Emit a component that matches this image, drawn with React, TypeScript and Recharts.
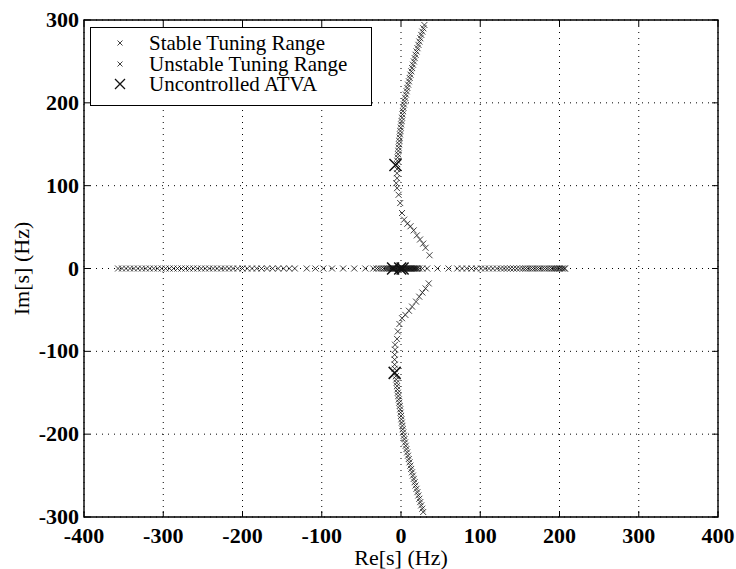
import { CartesianGrid, Label, ReferenceArea, Scatter, ScatterChart, XAxis, YAxis } from 'recharts'

const X_TICKS = [-400, -300, -200, -100, 0, 100, 200, 300, 400]
const Y_TICKS = [-300, -200, -100, 0, 100, 200, 300]

type Pole = [number, number]

// complex branches, [Re, Im] in Hz
const upperOuterStable: Pole[] = [
    [-5, 126], [-4.6, 130], [-4.2, 134], [-3.7, 138], [-3.3, 142], [-2.9, 146], [-2.5, 150],
    [-2.1, 154], [-1.7, 158], [-1.3, 162], [-0.8, 166], [-0.3, 170],
]
const upperOuterUnstable: Pole[] = [
    [0.2, 174], [0.8, 178], [1.3, 182], [1.9, 186], [2.5, 190], [3.1, 194], [3.7, 198], [4.4, 202],
    [5.3, 206], [6.2, 210], [7.1, 214], [8, 218], [9, 222], [10, 226], [11, 230], [12, 234],
    [13, 238], [14, 242], [15.1, 246], [16.2, 250], [17.3, 254], [18.4, 258], [19.6, 262],
    [20.8, 266], [22, 270], [23.2, 274], [24.4, 278], [25.6, 282], [26.9, 286], [28.2, 290], [29.5, 294],
]
const upperInnerStable: Pole[] = [[-5, 120], [-5, 115], [-5, 109], [-6, 103], [-5, 97], [-3, 89], [-1, 79]]
const upperInnerUnstable: Pole[] = [
    [1.3, 67], [4, 59], [8, 54], [12, 51], [16, 46], [20, 40], [24, 35], [28, 30], [31, 25], [36, 16],
]
const lowerInnerUnstable: Pole[] = [
    [35, -18], [31, -24], [27, -29], [23, -34], [19, -40], [14, -46], [10, -51], [5.5, -56], [1.3, -60],
]
const lowerInnerStable: Pole[] = [
    [-2, -67], [-4, -76], [-5, -85], [-7.5, -92], [-7.5, -98], [-8, -104], [-8, -110], [-8, -116], [-8, -121],
]
const lowerOuterStable: Pole[] = [
    [-6.5, -130], [-6, -134], [-5.5, -138], [-5, -142], [-4.5, -146], [-4, -150], [-3.4, -154],
    [-2.8, -158], [-2.2, -162], [-1.6, -166], [-1, -170], [-0.5, -174], [0, -178],
]
const lowerOuterUnstable: Pole[] = [
    [0.5, -182], [1.1, -186], [1.7, -190], [2.2, -194], [2.8, -198], [3.5, -202], [4.3, -206],
    [5.1, -210], [6, -214], [6.9, -218], [7.8, -222], [8.8, -226], [9.8, -230], [10.8, -234],
    [11.8, -238], [12.8, -242], [13.9, -246], [15, -250], [16.1, -254], [17.2, -258], [18.3, -262],
    [19.5, -266], [20.7, -270], [21.9, -274], [23.1, -278], [24.3, -282], [25.5, -286], [26.8, -290], [28, -294],
]

// real-axis poles (Re only, Im = 0)
const realLeftStable = [
    -357, -352, -347, -342, -337, -332, -327, -322, -317, -312, -307, -302, -297, -292, -287, -282,
    -277, -272, -267, -262, -257, -252, -247, -242, -237, -232, -227, -222, -217, -212, -206, -200,
    -194, -188, -182, -176, -169, -162, -155, -148, -141, -134, -119, -108, -98, -87, -73, -59, -45,
    -35, -31, -28, -25, -22, -20, -18, -16.5, -15, -13.5, -12, -10.5, -9, -8, -7, -6, -5, -4, -3,
    -2, -1, 0,
]
const realRightUnstable = [
    1, 2, 3, 4, 5, 6, 7, 8, 9, 10, 11, 12, 13, 14, 15, 16, 17, 18, 19, 20, 21, 23, 27, 33, 46, 60,
    71, 77, 83, 89, 95, 101, 106, 111, 116, 121, 126, 130, 134, 138, 142, 146, 150, 154, 157, 160,
    163, 166, 169, 172, 175, 178, 181, 184, 187, 190, 192, 194, 196, 198, 200, 202, 204, 206, 207,
]

const uncontrolled: Pole[] = [[-7, 125], [-8, -126], [-10, 0], [-1, 0], [2, 0]]

const toPoints = (poles: Pole[]) => poles.map(([re, im]) => ({ re, im }))
const onAxis = (values: number[]) => values.map((re) => ({ re, im: 0 }))

const stableData = [
    ...toPoints(upperOuterStable),
    ...toPoints(upperInnerStable),
    ...toPoints(lowerInnerStable),
    ...toPoints(lowerOuterStable),
    ...onAxis(realLeftStable),
]
const unstableData = [
    ...toPoints(upperOuterUnstable),
    ...toPoints(upperInnerUnstable),
    ...toPoints(lowerInnerUnstable),
    ...toPoints(lowerOuterUnstable),
    ...onAxis(realRightUnstable),
]
const uncontrolledData = toPoints(uncontrolled)

const PLOT_TOP = 20
const PLOT_RIGHT = 718
const SERIF = "'Liberation Serif', 'DejaVu Serif', serif"
const tickFont = { fontFamily: SERIF, fontSize: 22, fontWeight: 700, fill: '#000' }

function Cross({ cx, cy, r, width }: { cx: number; cy: number; r: number; width: number }) {
    return (
        <path
            d={`M${cx - r},${cy - r}L${cx + r},${cy + r}M${cx - r},${cy + r}L${cx + r},${cy - r}`}
            stroke="#111"
            strokeWidth={width}
            fill="none"
        />
    )
}

function XTick({ x, y, payload }: any) {
    return (
        <g>
            <line x1={x} x2={x} y1={y} y2={y - 6} stroke="#000" />
            <line x1={x} x2={x} y1={PLOT_TOP} y2={PLOT_TOP + 6} stroke="#000" />
            <text x={x} y={y + 26} textAnchor="middle" style={tickFont}>
                {payload.value}
            </text>
        </g>
    )
}

function YTick({ x, y, payload }: any) {
    return (
        <g>
            <line x1={x} x2={x + 6} y1={y} y2={y} stroke="#000" />
            <line x1={PLOT_RIGHT} x2={PLOT_RIGHT - 6} y1={y} y2={y} stroke="#000" />
            <text x={x - 5} y={y + 7} textAnchor="end" style={tickFont}>
                {payload.value}
            </text>
        </g>
    )
}

function LegendRow({ top, big, text }: { top: number; big?: boolean; text: string }) {
    return (
        <div style={{ position: 'absolute', left: 0, top: top - 9, height: 18, display: 'flex', alignItems: 'center' }}>
            <svg width={58} height={18} style={{ display: 'block' }}>
                {big ? <Cross cx={29} cy={9} r={5} width={1.3} /> : <Cross cx={29} cy={9} r={2.5} width={0.8} />}
            </svg>
            <span style={{ fontFamily: SERIF, fontSize: 21, lineHeight: '18px', color: '#000', whiteSpace: 'nowrap' }}>
                {text}
            </span>
        </div>
    )
}

export default function App() {
    return (
        <div style={{ position: 'absolute', left: 0, top: 0, width: 736, height: 569, background: '#fff' }}>
            <ScatterChart width={736} height={569} margin={{ top: PLOT_TOP, right: 736 - PLOT_RIGHT, bottom: 0, left: 0 }}>
                <CartesianGrid stroke="#000" strokeDasharray="1 5" />
                <XAxis
                    type="number"
                    dataKey="re"
                    domain={[-400, 400]}
                    ticks={X_TICKS}
                    height={52}
                    tickSize={0}
                    tickMargin={0}
                    axisLine={false}
                    tick={<XTick />}
                    interval={0}
                >
                    <Label
                        value="Re[s] (Hz)"
                        position="insideBottom"
                        offset={4}
                        style={{ fontFamily: SERIF, fontSize: 22, fill: '#000' }}
                    />
                </XAxis>
                <YAxis
                    type="number"
                    dataKey="im"
                    domain={[-300, 300]}
                    ticks={Y_TICKS}
                    width={84}
                    tickSize={0}
                    tickMargin={0}
                    axisLine={false}
                    tick={<YTick />}
                    interval={0}
                >
                    <Label
                        value="Im[s] (Hz)"
                        angle={-90}
                        position="insideLeft"
                        offset={21}
                        style={{ fontFamily: SERIF, fontSize: 22, fill: '#000', textAnchor: 'middle' }}
                    />
                </YAxis>
                <ReferenceArea x1={-400} x2={400} y1={-300} y2={300} fill="none" stroke="#000" strokeWidth={1.4} />
                <Scatter
                    name="Stable Tuning Range"
                    data={stableData}
                    isAnimationActive={false}
                    shape={(p: any) => <Cross cx={p.cx} cy={p.cy} r={3} width={0.8} />}
                />
                <Scatter
                    name="Unstable Tuning Range"
                    data={unstableData}
                    isAnimationActive={false}
                    shape={(p: any) => <Cross cx={p.cx} cy={p.cy} r={3} width={0.8} />}
                />
                <Scatter
                    name="Uncontrolled ATVA"
                    data={uncontrolledData}
                    isAnimationActive={false}
                    shape={(p: any) => <Cross cx={p.cx} cy={p.cy} r={6} width={1.5} />}
                />
            </ScatterChart>
            <div
                style={{
                    position: 'absolute',
                    left: 90,
                    top: 27,
                    width: 282,
                    height: 79,
                    boxSizing: 'border-box',
                    border: '1.3px solid #000',
                    background: '#fff',
                }}
            >
                <LegendRow top={15} text="Stable Tuning Range" />
                <LegendRow top={36} text="Unstable Tuning Range" />
                <LegendRow top={56} big text="Uncontrolled ATVA" />
            </div>
        </div>
    )
}
